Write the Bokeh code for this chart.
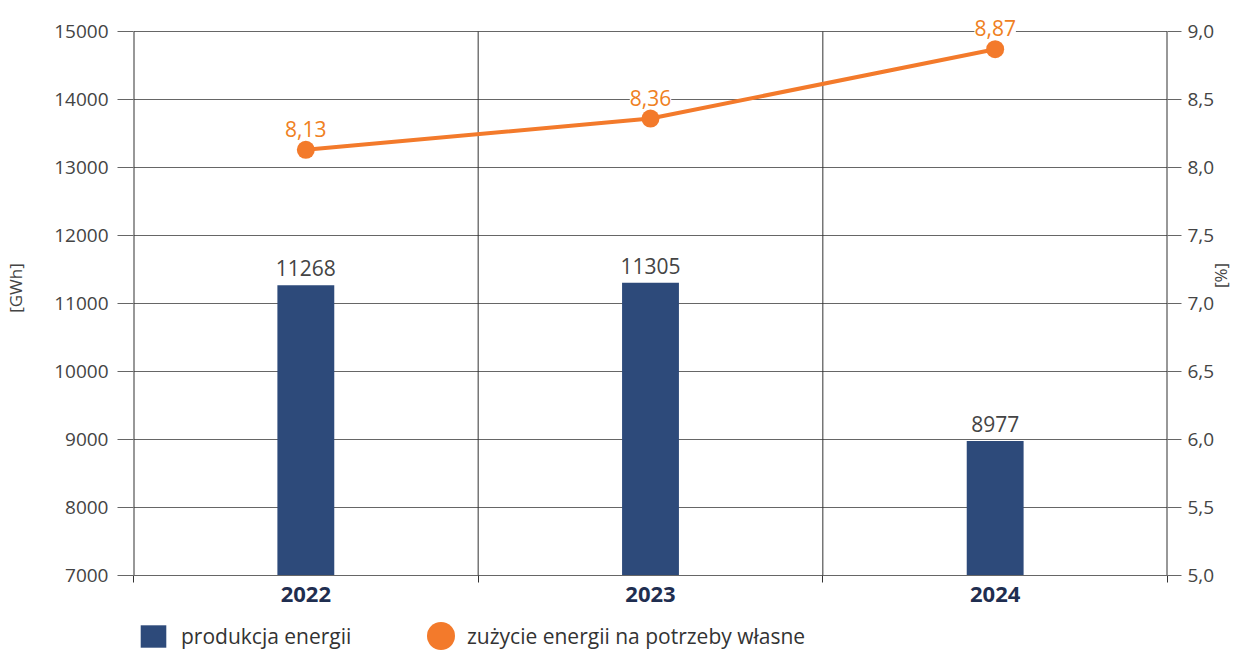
import math
from bokeh.plotting import figure
from bokeh.layouts import column
from bokeh.models import (ColumnDataSource, Range1d, LinearAxis, FixedTicker,
                          CustomJSTickFormatter, LabelSet, Legend, LegendItem)
from bokeh.core.properties import value
from bokeh.embed import file_html
from bokeh.resources import INLINE

years = ["2022", "2023", "2024"]
production = [11268, 11305, 8977]
own_use = [8.13, 8.36, 8.87]
own_use_labels = ["8,13", "8,36", "8,87"]
gwh_ticks = [7000, 8000, 9000, 10000, 11000, 12000, 13000, 14000, 15000]
pct_ticks = [5.0, 5.5, 6.0, 6.5, 7.0, 7.5, 8.0, 8.5, 9.0]
legend_labels = ["produkcja energii", "zużycie energii na potrzeby własne"]

FONT = "Open Sans"
BAR = "#2d4a7a"
ORANGE = "#f37a2b"
ORANGE_TXT = "#ef8022"
GRID = "#666666"
DARK = "#333333"
TXT = "#444444"
W = 1246
LEFT = 133

GWH_MIN, GWH_MAX = gwh_ticks[0], gwh_ticks[-1]
PCT_MIN, PCT_MAX = pct_ticks[0], pct_ticks[-1]
TOP_PAD_FRAC = 31 / 544
gwh_end = GWH_MAX + (GWH_MAX - GWH_MIN) * TOP_PAD_FRAC
pct_end = PCT_MAX + (PCT_MAX - PCT_MIN) * TOP_PAD_FRAC

xs = [i + 0.5 for i in range(len(years))]
src = ColumnDataSource(dict(x=xs, prod=production, prod_lbl=[str(v) for v in production],
                            pct=own_use, pct_lbl=own_use_labels))

p = figure(width=W, height=615, output_backend="svg", toolbar_location=None,
           x_range=Range1d(0, len(years)), y_range=Range1d(GWH_MIN, gwh_end),
           min_border_top=0, min_border_left=LEFT, min_border_right=0, min_border_bottom=40)
p.outline_line_color = None
p.extra_y_ranges = {"pct": Range1d(PCT_MIN, pct_end)}

sep_x = list(range(len(years) + 1))
p.segment(x0=sep_x, x1=sep_x, y0=[GWH_MIN] * len(sep_x), y1=[GWH_MAX] * len(sep_x),
          line_color=DARK, line_width=[2, 1, 1, 2])

bars = p.vbar(x="x", top="prod", bottom=GWH_MIN, width=0.165, source=src,
              fill_color=BAR, line_color=None)

p.line(x="x", y="pct", source=src, y_range_name="pct", line_color=ORANGE, line_width=4)
p.scatter(x="x", y="pct", source=src, y_range_name="pct", size=18,
          fill_color=ORANGE, line_color=None)

p.add_layout(LabelSet(x="x", y="prod", text="prod_lbl", source=src, y_offset=9,
                      text_align="center", text_baseline="bottom", text_font=value(FONT),
                      text_font_size="21px", text_color=TXT))
p.add_layout(LabelSet(x="x", y="pct", text="pct_lbl", source=src, y_range_name="pct",
                      y_offset=13, text_align="center", text_baseline="bottom",
                      text_font=value(FONT), text_font_size="21px", text_color=ORANGE_TXT,
                      background_fill_color="white", border_line_color=None))

xa = p.xaxis[0]
xa.ticker = FixedTicker(ticks=xs, minor_ticks=sep_x)
xa.major_label_overrides = {x: y for x, y in zip(xs, years)}
xa.major_tick_line_color = None
xa.minor_tick_out = 7
xa.minor_tick_in = 0
xa.minor_tick_line_color = DARK
xa.axis_line_color = GRID
xa.major_label_text_font = FONT
xa.major_label_text_font_size = "22px"
xa.major_label_text_font_style = "bold"
xa.major_label_text_color = "#1f2e50"
xa.major_label_standoff = 4

ya = p.yaxis[0]
ya.ticker = FixedTicker(ticks=gwh_ticks)
ya.minor_tick_line_color = None
ya.major_tick_out = 16
ya.major_tick_in = 0
ya.major_tick_line_color = GRID
ya.axis_line_color = None
ya.major_label_text_font = FONT
ya.major_label_text_font_size = "19px"
ya.major_label_text_color = TXT
ya.major_label_standoff = 9
ya.axis_label = "[GWh]"
ya.axis_label_text_font = FONT
ya.axis_label_text_font_size = "17px"
ya.axis_label_text_font_style = "normal"
ya.axis_label_text_color = TXT
ya.axis_label_standoff = 24

ra = LinearAxis(y_range_name="pct", ticker=FixedTicker(ticks=pct_ticks),
                formatter=CustomJSTickFormatter(code="return tick.toFixed(1).replace('.', ',');"))
ra.minor_tick_line_color = None
ra.major_tick_out = 14
ra.major_tick_in = 0
ra.major_tick_line_color = GRID
ra.axis_line_color = None
ra.major_label_text_font = FONT
ra.major_label_text_font_size = "19px"
ra.major_label_text_color = TXT
ra.major_label_standoff = 6
ra.axis_label = "[%]"
ra.axis_label_text_font = FONT
ra.axis_label_text_font_size = "17px"
ra.axis_label_text_font_style = "normal"
ra.axis_label_text_color = TXT
ra.axis_label_standoff = 3
ra.axis_label_orientation = math.pi / 2
p.add_layout(ra, "right")

p.ygrid.ticker = FixedTicker(ticks=gwh_ticks)
p.ygrid.grid_line_color = GRID
p.ygrid.grid_line_width = 1
p.xgrid.grid_line_color = None

# legend strip
q = figure(width=W, height=35, output_backend="svg", toolbar_location=None,
           x_range=Range1d(0, 1), y_range=Range1d(0, 1),
           min_border_top=0, min_border_bottom=0, min_border_left=LEFT, min_border_right=0)
q.axis.visible = False
q.grid.visible = False
q.outline_line_color = None
leg_bar = q.vbar(x=[-1], top=[-1], width=0.1, fill_color=BAR, line_color=None)
leg_dot = q.ellipse(x=[-1], y=[-1], width=20, height=20, width_units="screen",
                    height_units="screen", fill_color=ORANGE, line_color=None)
common = dict(orientation="horizontal", margin=0, padding=0, label_standoff=12,
              label_text_font=FONT, label_text_font_size="21px", label_text_color=DARK,
              border_line_color=None, background_fill_alpha=0)
q.add_layout(Legend(items=[LegendItem(label=legend_labels[0], renderers=[leg_bar])],
                    location=(4, 0), glyph_width=32, glyph_height=28, **common), "center")
q.add_layout(Legend(items=[LegendItem(label=legend_labels[1], renderers=[leg_dot])],
                    location=(290, -3), glyph_width=35, glyph_height=35,
                    **{**common, "label_standoff": 9}), "center")

open("out.html", "w").write(file_html(column(p, q, spacing=0), INLINE))
